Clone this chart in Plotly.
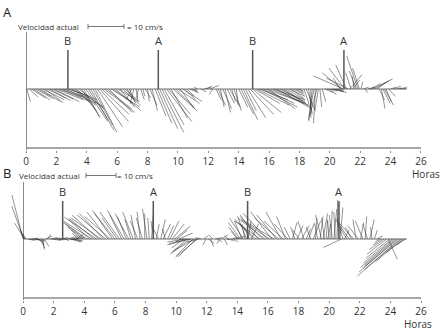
import plotly.graph_objects as go

# ---------------- data (hours, east / north velocity components in cm/s) ----------------
t_a = [0.05, 0.2, 0.35, 0.5, 0.65, 0.8, 0.95, 1.1, 1.25, 1.4, 1.55, 1.7, 1.85,
       2.0, 2.15, 2.3, 2.45, 2.6, 2.75, 2.9, 3.05, 3.2, 3.35, 3.5,
       3.65, 3.8, 3.95, 4.1, 4.25, 4.4, 4.55, 4.7, 4.85, 5.0, 5.15,
       5.3, 5.45, 5.6, 5.75, 5.9, 6.05, 6.2, 6.35, 6.5, 6.65, 6.8,
       6.95, 7.1, 7.25, 7.4, 7.55, 7.7, 7.85, 8.0, 8.15, 8.3,
       8.5, 8.65, 8.8, 8.95, 9.1, 9.25, 9.4, 9.55,
       9.7, 9.85, 10.0, 10.15, 10.3, 10.45, 10.6, 10.75, 10.9,
       11.1, 11.3, 11.5, 11.7, 11.9, 12.1, 12.3,
       12.5, 12.65, 12.8, 12.95, 13.1, 13.25, 13.4, 13.55, 13.7, 13.85,
       14.0, 14.15, 14.3, 14.45, 14.6, 14.75, 14.9,
       15.05, 15.2, 15.35, 15.5, 15.65, 15.8, 15.95, 16.1, 16.25, 16.4, 16.55, 16.7, 16.85,
       17.0, 17.15, 17.3, 17.45, 17.6, 17.75, 17.9, 18.05,
       18.3, 18.45, 18.6, 18.75, 18.85, 18.95, 19.05, 19.15, 19.25, 19.35, 19.5,
       19.65, 19.8, 19.95, 20.1, 20.25, 20.4, 20.55,
       20.7, 20.8, 20.9, 21.0, 21.1, 21.2, 21.3, 21.4, 21.5, 21.6, 21.75, 21.85, 21.95, 22.05, 22.2,
       22.35, 22.5, 22.65, 22.8, 22.95, 23.1,
       23.25, 23.4, 23.5, 23.6, 23.7, 23.85, 24.0, 24.2, 24.4, 24.6, 24.8]
u_a = [1.0, 2.5, 4.0, 4.5, 5.0, 3.5, 5.5, 6.0, 5.0, 6.5, 4.5, 6.0, 7.0,
       7.5, 6.5, 8.0, 7.0, 8.5, 6.0, 7.5, 6.5, 8.0, 5.5, 7.0,
       5.0, 4.5, 6.0, 5.5, 6.5, 5.5, 6.0, 7.0, 8.0, 7.5, 8.5,
       7.0, 6.5, 8.0, 5.5, 7.0, 6.0, 4.0, 5.0, 3.5, 2.5, 1.5,
       -1.5, -1.0, 0.5, -0.5, 1.0, 0.5, 1.5, 0.5, 2.0, 1.5,
       3.0, 4.0, 5.0, 6.0, 5.5, 7.0, 6.0, 4.5,
       6.5, 5.0, 6.0, 4.0, 5.5, 3.0, 2.0, 2.5, 1.5,
       1.0, -1.0, 1.5, 2.0, 1.5, 2.5, -1.0,
       1.5, 2.0, 1.0, 2.5, 1.5, 2.0, 3.0, 1.0, 2.0, 0.5,
       2.5, 3.5, 4.0, 3.0, 5.0, 6.5, 8.0,
       7.0, 9.0, 8.0, 10.0, 8.5, 9.5, 7.5, 10.5, 9.0, 8.0, 9.5, 7.0, 8.0,
       6.0, 5.0, 4.5, 3.5, 3.0, 2.0, 1.5, 1.0,
       1.5, 2.5, 1.0, 0.0, -1.0, -1.5, -0.5, -2.0, -1.0, 0.5, 1.0,
       2.5, 3.0, 2.0, 3.5, 2.5, 3.0, 1.5,
       -2.0, -5.5, -8.3, -4.5, -3.0, -6.0, 3.5, -1.5, 2.0, -0.5, -2.0, -3.1, -1.9, 0.5, 1.5,
       0.5, 2.0, 3.0, 4.0, 5.0, 3.5,
       1.5, 1.0, 2.0, 2.5, 1.5, 2.0, 1.5, 2.0, 1.5, 2.0, 1.0]
v_a = [-3.5, -2.2, -2.5, -3.0, -2.8, -2.0, -3.5, -3.0, -3.8, -3.2, -2.5, -2.8, -3.5,
       -3.0, -2.2, -3.5, -2.5, -4.0, -2.0, -3.0, -4.5, -5.0, -6.0, -5.5,
       -7.5, -8.0, -9.0, -8.5, -11.5, -10.0, -12.0, -10.5, -9.0, -7.0, -6.5,
       -5.5, -6.5, -5.0, -4.0, -6.0, -3.5, -5.0, -4.5, -3.0, -4.0, -3.5,
       -3.0, -4.0, -3.5, -2.5, -3.0, -2.0, -2.5, -3.5, -4.5, -6.0,
       -7.5, -9.5, -11.0, -12.0, -10.0, -9.0, -7.0, -8.0,
       -6.0, -5.0, -4.0, -5.5, -3.5, -3.0, -2.0, -1.0, -0.5,
       -1.0, 0.5, -0.8, 0.5, 0.8, 1.0, -1.5,
       -3.0, -4.5, -5.0, -5.5, -6.5, -4.0, -5.0, -3.5, -6.0, -4.5,
       -5.0, -7.0, -8.5, -6.0, -8.0, -7.0, -6.5,
       -4.0, -4.5, -3.0, -5.0, -4.0, -3.5, -5.5, -4.5, -3.0, -4.0, -5.5, -3.5, -5.0,
       -4.0, -3.0, -2.0, -2.5, -1.5, -1.0, -0.5, -1.0,
       -4.5, -6.0, -7.0, -8.0, -9.0, -8.5, -9.5, -7.5, -6.0, -5.0, -3.5,
       -1.0, -0.5, -1.5, -0.8, -0.5, -1.0, -0.5,
       3.0, 4.5, 3.6, 5.8, 6.7, 3.0, 4.0, 4.5, 2.5, 3.5, 5.0, 9.2, 5.8, 2.0, 0.5,
       -1.0, 0.5, 1.5, 2.0, 2.8, 2.5,
       -3.0, -5.5, -4.0, -4.5, -3.5, -2.0, 0.5, 0.8, 0.3, 0.5, 0.2]

t_b = [0.0, 0.05, 0.1, 0.15, 0.2, 0.3, 0.45, 0.6, 0.75, 0.9, 1.05, 1.2, 1.3, 1.4, 1.5, 1.6, 1.75, 1.9,
       2.05, 2.2, 2.35, 2.5, 2.7, 2.85, 3.0, 3.1, 3.2, 3.3, 3.45, 3.6,
       3.75, 3.9, 4.05, 4.2, 4.35, 4.5, 4.65, 4.8, 4.95, 5.1, 5.25, 5.4, 5.55, 5.7, 5.85, 6.0,
       6.15, 6.3, 6.45, 6.6, 6.75, 6.9, 7.05, 7.2, 7.35, 7.5, 7.65, 7.8, 7.95, 8.1, 8.25, 8.4,
       8.55, 8.7, 8.85, 9.0, 9.15, 9.3, 9.45, 9.6, 9.75, 9.9, 10.05, 10.2,
       10.35, 10.5, 10.6, 10.7, 10.8, 10.9, 11.0, 11.1, 11.2, 11.3, 11.4, 11.5,
       11.65, 11.8, 11.95, 12.1, 12.25, 12.4, 12.55, 12.7, 12.85, 13.0, 13.15, 13.3, 13.45, 13.6, 13.75, 13.9,
       14.0, 14.1, 14.2, 14.3, 14.4, 14.5, 14.6, 14.7, 14.8, 14.9,
       15.05, 15.2, 15.35, 15.5, 15.65, 15.8, 15.95, 16.1, 16.25, 16.4, 16.55, 16.7, 16.85,
       17.0, 17.15, 17.3, 17.45, 17.6, 17.75, 17.9,
       18.05, 18.2, 18.35, 18.5, 18.65, 18.8, 18.95, 19.1, 19.25, 19.4, 19.5, 19.6, 19.7, 19.8, 19.9,
       20.0, 20.1, 20.2, 20.3, 20.4, 20.5, 20.6, 20.7, 20.8, 20.9, 21.0,
       21.15, 21.3, 21.45, 21.6, 21.75, 21.9, 22.05, 22.2, 22.35, 22.5, 22.65, 22.8, 22.95, 23.1,
       23.3, 23.45, 23.6, 23.75, 23.85, 23.95, 24.1, 24.2, 24.3, 24.4, 24.5, 24.6, 24.7, 24.8, 24.9, 25.0]
u_b = [-3.7, -4.0, -3.3, -1.7, -1.0, 2.5, 3.0, 2.0, 3.5, 2.5, 1.5, 1.0, 0.5, 1.5, 2.0, 1.0, 2.5, 3.0,
       2.0, 2.5, 3.0, 2.0, 1.5, 3.5, 4.5, 3.5, 4.0, 3.0, 2.5, -2.0,
       -3.0, -5.0, -6.5, -8.0, -7.0, -9.5, -8.5, -10.7, -9.0, -10.0, -8.0, -9.5, -7.0, -8.5, -6.0, -7.5,
       -5.0, -6.5, -4.0, -5.5, -3.0, -4.5, -2.0, -3.5, -1.5, -2.5, -1.0, -2.0, 0.0, -1.5, -0.5, 0.5,
       -1.0, 1.0, -2.0, 1.5, 2.5, -1.0, 2.0, 3.0, 4.0, 5.3, 3.5, 4.5,
       -2.0, -4.0, -6.0, -5.0, -7.0, -6.5, -7.5, -5.5, -7.0, -6.0, -7.3, -4.0,
       -2.0, 1.5, -1.0, 2.0, 1.0, -1.5, 2.5, 1.5, -1.0, 2.0, 1.0, 2.5, -1.5, 2.0, 1.5, 3.0,
       -2.0, -3.5, -4.0, -2.5, -4.7, -1.0, -3.0, 1.0, -2.0, 2.5,
       -5.0, -7.0, -6.0, -8.5, -7.5, -9.0, -8.0, -9.5, -7.0, -8.7, -6.5, -8.0, -5.0,
       -6.5, -3.0, -4.5, -2.0, 1.5, -1.0, 2.0,
       -3.0, 2.5, -2.0, 1.5, 2.0, -1.5, 2.5, 0.5, -1.0, 1.0, -2.0, 1.5, -1.0, 0.5, 1.0,
       -0.5, 0.5, -1.0, 1.0, -0.5, 0.5, -0.3, 1.0, -6.0, -2.0, 1.5,
       -3.0, -4.5, -2.0, -5.0, -1.0, -3.5, 1.0, -2.5, 0.5, -1.5, 1.5, -0.5, 1.0, 2.0,
       -1.5, -3.0, -5.0, -6.5, 3.0, -8.0, -9.5, -11.0, -10.0, -12.5, -11.5, -14.0, -12.0, -9.0, -6.0, -3.0]
v_b = [14.7, 11.0, 5.3, 3.0, 1.5, -0.5, -0.3, 0.3, -0.5, -1.0, -2.0, -3.0, -3.5, -2.5, 1.0, 1.5, 0.5, -0.5,
       0.3, -0.3, 0.5, 0.0, -0.5, 0.8, -0.5, -1.0, 0.5, -0.8, 1.5, 2.0,
       3.0, 4.0, 5.0, 5.5, 6.5, 6.0, 7.0, 7.3, 8.0, 7.0, 8.5, 8.0, 9.0, 7.5, 8.5, 9.5,
       7.0, 9.0, 8.0, 9.5, 7.5, 8.5, 6.5, 9.0, 8.0, 6.0, 9.0, 7.0, 8.5, 10.0, 7.0, 8.0,
       6.0, 5.0, 4.0, 6.5, 5.0, 3.5, 4.5, 6.0, 5.0, 4.3, 3.0, 2.0,
       -1.0, -3.0, -1.0, -4.5, -2.0, -5.0, -1.5, -5.5, -4.0, -6.0, -6.0, -1.0,
       0.5, 1.0, -2.0, -1.5, -2.5, 1.5, 0.5, -1.0, -1.5, 1.5, -2.0, -0.5, 1.0, 0.5, -1.0, 1.0,
       2.5, 4.0, 5.5, 6.0, 7.0, 5.0, 7.5, 6.0, 4.0, 5.0,
       5.5, 6.5, 8.0, 6.0, 7.5, 7.0, 8.5, 6.5, 9.0, 5.3, 8.0, 7.0, 9.0,
       6.0, 7.5, 5.0, 4.0, 5.5, 3.0, 4.5,
       4.0, 4.5, 6.0, 3.5, 5.5, 4.0, 6.0, 7.0, 5.0, 7.5, 8.0, 8.5, 7.0, 6.5, 5.0,
       6.0, 9.5, 8.0, 10.0, 9.0, 12.0, 13.0, 10.5, -2.8, 7.0, 3.0,
       5.0, 6.5, 4.0, 5.5, 6.5, 4.5, 5.5, 6.0, 7.5, 5.0, 6.5, 4.0, 3.0, 1.0,
       -1.0, -2.0, -3.5, -5.0, -6.7, -6.5, -8.0, -9.5, -8.7, -11.0, -9.5, -12.3, -10.0, -7.5, -4.5, -2.0]

hour_ticks = [0, 2, 4, 6, 8, 10, 12, 14, 16, 18, 20, 22, 24, 26]
event_labels = ["B", "A", "B", "A"]
events_a = [2.76, 8.71, 14.92, 20.93]
events_b = [2.59, 8.51, 14.67, 20.64]
scale_speed = 10  # cm/s

# ---------------- geometry (pixels of the 445x331 page) ----------------
W, H = 445, 331
panels = [
    dict(label="A", t=t_a, u=u_a, v=v_a, ev=events_a, x0=26.0, pph=15.19, k=3.6,
         base=89.0, top=32.0, axis=148.0, ev_top=50.0, xid="x", yid="y",
         title_xy=(7.5, 12.5), vel_y=26.5, bar_px=88.0, bar_txt=145.0, vel_x=48.5,
         horas=(426.0, 173.5), base_end=25.08),
    dict(label="B", t=t_b, u=u_b, v=v_b, ev=events_b, x0=23.0, pph=15.31, k=3.0,
         base=239.0, top=182.0, axis=298.0, ev_top=201.0, xid="x2", yid="y2",
         title_xy=(6.5, 173.0), vel_y=175.5, bar_px=86.0, bar_txt=135.0, vel_x=49.0,
         horas=(418.0, 323.5), base_end=25.08),
]

FONT = "Open Sans"
STICK = "rgba(35,35,35,0.62)"
AXC = "#8a8a8a"

fig = go.Figure()
layout = dict(width=W, height=H, margin=dict(l=0, r=0, t=0, b=0),
              paper_bgcolor="white", plot_bgcolor="white", showlegend=False,
              annotations=[], shapes=[])

for p in panels:
    xr = [-1.5, 26.3]
    dom_x = [(p["x0"] + xr[0] * p["pph"]) / W, (p["x0"] + xr[1] * p["pph"]) / W]
    yr = [-(p["axis"] + 1.5 - p["base"]) / p["k"], (p["base"] - p["top"]) / p["k"]]
    dom_y = [1 - (p["axis"] + 1.5) / H, 1 - p["top"] / H]
    xa, ya = p["xid"], p["yid"]
    xkey = "xaxis" if xa == "x" else "xaxis2"
    ykey = "yaxis" if ya == "y" else "yaxis2"
    layout[xkey] = dict(domain=dom_x, range=xr, anchor=ya, showgrid=False, showline=False,
                        zeroline=True, zerolinecolor=AXC, zerolinewidth=1.3,
                        tickmode="array", tickvals=hour_ticks, ticktext=[str(v) for v in hour_ticks],
                        ticks="outside", ticklen=2, tickcolor=AXC, tickwidth=1,
                        tickfont=dict(family=FONT, size=10, color="#333"))
    layout[ykey] = dict(domain=dom_y, range=yr, anchor=xa, showgrid=False, showline=False,
                        zeroline=False, showticklabels=False, ticks="")

    sx = p["k"] / p["pph"]  # hours per cm/s (horizontal stick component)
    xs, ys = [], []
    for t, u, v in zip(p["t"], p["u"], p["v"]):
        xs += [t, t + u * sx, None]
        ys += [0, v, None]
    # baseline
    fig.add_trace(go.Scatter(x=[0, p["base_end"]], y=[0, 0], mode="lines", xaxis=xa, yaxis=ya,
                             line=dict(color="#777", width=1), hoverinfo="skip"))
    # sticks
    fig.add_trace(go.Scatter(x=xs, y=ys, mode="lines", xaxis=xa, yaxis=ya,
                             line=dict(color=STICK, width=0.8), hoverinfo="skip"))
    # bottom axis line
    yb = -(p["axis"] - p["base"]) / p["k"]
    fig.add_trace(go.Scatter(x=[0, 26], y=[yb, yb], mode="lines", xaxis=xa, yaxis=ya,
                             line=dict(color=AXC, width=1.3), hoverinfo="skip"))
    # event markers
    ev_v = (p["base"] - p["ev_top"]) / p["k"]
    ex, ey = [], []
    for te in p["ev"]:
        ex += [te, te, None]
        ey += [0, ev_v, None]
    fig.add_trace(go.Scatter(x=ex, y=ey, mode="lines", xaxis=xa, yaxis=ya,
                             line=dict(color="#555", width=1.5), hoverinfo="skip"))
    for te, lab in zip(p["ev"], event_labels):
        layout["annotations"].append(dict(x=te, y=ev_v, xref=xa, yref=ya, text=lab, showarrow=False,
                                          yanchor="bottom", xanchor="center", yshift=0,
                                          font=dict(family=FONT, size=11, color="#333")))
    # panel letter
    layout["annotations"].append(dict(x=p["title_xy"][0] / W, y=1 - p["title_xy"][1] / H,
                                      xref="paper", yref="paper", text=p["label"], showarrow=False,
                                      xanchor="center", yanchor="middle",
                                      font=dict(family=FONT, size=13, color="#222")))
    # "Velocidad actual" and scale bar
    layout["annotations"].append(dict(x=p["vel_x"] / W, y=1 - p["vel_y"] / H, xref="paper", yref="paper",
                                      text="Velocidad actual", showarrow=False, xanchor="center",
                                      yanchor="middle", font=dict(family=FONT, size=8, color="#333")))
    bx0 = (p["bar_px"] - p["x0"]) / p["pph"]
    bx1 = bx0 + scale_speed * sx
    by = 1 - p["vel_y"] / H
    dy = 2.5 / H
    for shp in [dict(x0=bx0, x1=bx1, y0=by, y1=by), dict(x0=bx0, x1=bx0, y0=by - dy, y1=by + dy),
                dict(x0=bx1, x1=bx1, y0=by - dy, y1=by + dy)]:
        layout["shapes"].append(dict(type="line", xref=xa, yref="paper", line=dict(color="#777", width=1), **shp))
    layout["annotations"].append(dict(x=p["bar_txt"] / W, y=by, xref="paper", yref="paper",
                                      text="= 10 cm/s", showarrow=False, xanchor="center", yanchor="middle",
                                      font=dict(family=FONT, size=8, color="#333")))
    layout["annotations"].append(dict(x=p["horas"][0] / W, y=1 - p["horas"][1] / H, xref="paper", yref="paper",
                                      text="Horas", showarrow=False, xanchor="center", yanchor="middle",
                                      font=dict(family=FONT, size=10, color="#333")))

fig.update_layout(**layout)
fig.write_html("out.html", config={"displayModeBar": False},
               post_script="document.body.style.margin='0';document.body.style.overflow='hidden';")
